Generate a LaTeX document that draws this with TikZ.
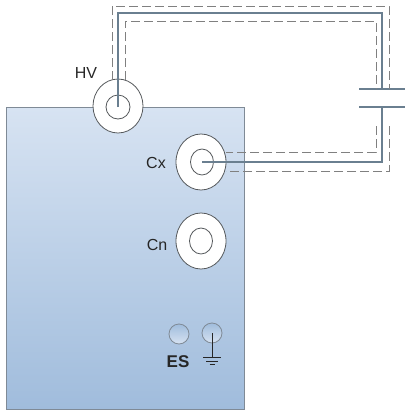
\documentclass[tikz,border=0pt]{standalone}
\usepackage{fontspec}
\setmainfont{Liberation Sans}
\usetikzlibrary{shapes.geometric}
\definecolor{wireBlue}{HTML}{6A7F90}
\definecolor{shieldGrey}{HTML}{808080}
\definecolor{ringGrey}{HTML}{55595C}
\definecolor{panelEdge}{HTML}{7F8A96}
\definecolor{panelTop}{HTML}{D7E3F2}
\definecolor{panelBottom}{HTML}{A0BCDC}
\tikzset{
	panel/.style = {draw = panelEdge, line width = 0.8pt, top color = panelTop, bottom color = panelBottom},
	ring/.style = {draw = ringGrey, line width = 0.8pt, fill = white, ellipse, inner sep = 0pt, minimum width = 50pt, minimum height = 56pt},
	core/.style = {draw = ringGrey, line width = 0.8pt, ellipse, inner sep = 0pt, minimum width = 23pt, minimum height = 26pt},
	stud/.style = {draw = panelEdge, line width = 0.8pt, circle, inner sep = 0pt, minimum size = 20pt, top color = panelBottom, bottom color = panelTop},
	wire/.style = {draw = wireBlue, line width = 1.4pt, line join = miter},
	shield/.style = {draw = shieldGrey, line width = 0.8pt, dash pattern = on 9pt off 4pt},
	plate/.style = {draw = wireBlue, line width = 1.4pt},
	lbl/.style = {font = \fontsize{16}{16}\selectfont, text = black!85, inner sep = 0pt}
}

\begin{document}
\begin{tikzpicture}[x = 1pt, y = -1pt]
	\useasboundingbox (0,0) rectangle (406,410);

	\node (panelBox) [panel, rectangle, inner sep = 0pt, minimum width = 238pt, minimum height = 302pt, anchor = north west] at (6,107) {};

	% sockets
	\node (hvRing) [ring, minimum height = 54pt] at (118,106) {};
	\node (hvCore) [core, minimum width = 24pt, minimum height = 24pt] at (118,107) {};
	\node (cxRing) [ring] at (201,162) {};
	\node (cxCore) [core] at (202,162) {};
	\node (cnRing) [ring] at (201,241) {};
	\node (cnCore) [core] at (201,241) {};
	\node (esStud) [stud] at (179,334) {};
	\node (gndStud) [stud] at (212,333) {};

	% labels
	\node (hvLabel) [lbl] at (86,73) {HV};
	\node (cxLabel) [lbl] at (156,163) {Cx};
	\node (cnLabel) [lbl] at (157,245) {Cn};
	\node (esLabel) [lbl, font = \fontsize{17}{17}\selectfont\bfseries] at (178,362) {ES};

	% capacitor
	\coordinate (capTop) at (382,89);
	\coordinate (capBottom) at (382,107);
	\coordinate (capTopL) at (359,89);
	\coordinate (capTopR) at (405,89);
	\coordinate (capBottomL) at (359,107);
	\coordinate (capBottomR) at (405,107);
	\draw [plate] (capTopL) -- (capTopR);
	\draw [plate] (capBottomL) -- (capBottomR);

	% conductor
	\coordinate (wireCorner) at (118,13);
	\draw [wire] (hvCore.center) -- (wireCorner) -| (capTop);
	\draw [wire] (capBottom) |- (cxCore.center);

	% shield
	\begin{scope}[shield]
		\coordinate (hvOuterEnd) at (112,80);
		\coordinate (hvInnerEnd) at (125,80);
		\coordinate (capOuterTop) at (389,89);
		\coordinate (capInnerTop) at (376,89);
		\coordinate (capOuterLow) at (389,126);
		\coordinate (capInnerLow) at (376,126);
		\coordinate (cxInnerEnd) at (226,152);
		\coordinate (cxOuterEnd) at (226,171);
		\draw (hvOuterEnd) -- (112,6) -| (capOuterTop);
		\draw (hvInnerEnd) -- (125,21) -| (capInnerTop);
		\draw (capInnerLow) |- (cxInnerEnd);
		\draw (capOuterLow) |- (cxOuterEnd);
	\end{scope}

	% ground symbol
	\coordinate (gndFoot) at (212,357);
	\draw [black!85, line width = 0.8pt] (gndStud.center) -- (gndFoot);
	\draw [black!85, line width = 0.8pt] ([xshift = -9pt]gndFoot) -- ([xshift = 9pt]gndFoot);
	\draw [black!85, line width = 0.8pt] ([shift = {(-6pt,-4pt)}]gndFoot) -- ([shift = {(6pt,-4pt)}]gndFoot);
	\draw [black!85, line width = 0.8pt] ([shift = {(-2.5pt,-7pt)}]gndFoot) -- ([shift = {(2.5pt,-7pt)}]gndFoot);
\end{tikzpicture}
\end{document}
